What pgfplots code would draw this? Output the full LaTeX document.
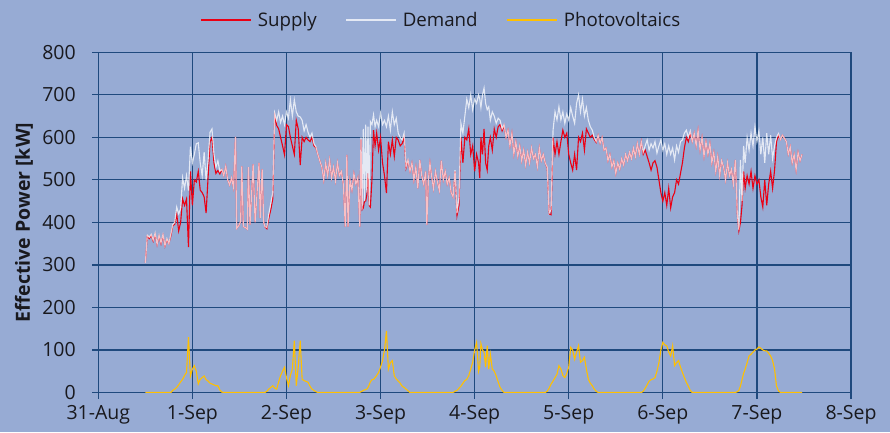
\documentclass[border=0pt]{standalone}
\usepackage{fontspec}
\setmainfont{Open Sans}
\usepackage{pgfplots}
\usepackage{pgfplotstable}
\pgfplotsset{compat=1.18}
\definecolor{bgc}{RGB}{151,171,212}
\definecolor{navy}{RGB}{31,73,125}
\definecolor{pvc}{RGB}{255,192,0}
\definecolor{supc}{RGB}{235,0,20}
\definecolor{txt}{RGB}{25,25,30}

\pgfplotstableread{
h D S P
12.0 305 305 0
12.5 370 368 0
13.0 365 362 0
13.5 372 370 0
14.0 358 356 0
14.5 375 372 0
15.0 348 347 0
15.5 370 368 0
16.0 352 350 0
16.5 372 370 0
17.0 345 344 0
17.5 362 360 0
18.0 350 350 0
18.5 372 368 0
19.0 395 392 5
19.5 400 396 8
20.0 436 420 12
20.5 420 380 18
21.0 432 400 25
21.5 505 455 31
22.0 480 440 40
22.5 510 455 47
23.0 475 342 130
23.5 578 520 39
24.0 540 440 55
24.5 560 500 63
25.0 585 495 50
25.5 587 520 20
26.0 540 476 31
26.5 510 470 35
27.0 565 460 39
27.5 500 422 30
28.0 545 505 27
28.5 612 590 22
29.0 620 600 20
29.5 560 540 18
30.0 530 515 16
30.5 545 522 16
31.0 520 514 6
31.5 525 524 1
32.0 510 510 0
32.5 532 532 0
33.0 500 500 0
33.5 488 488 0
34.0 505 505 0
34.5 482 482 0
35.0 601 601 0
35.3 386 386 0
35.8 392 392 0
36.3 402 402 0
36.6 532 532 0
37.0 390 390 0
37.5 388 388 0
38.0 384 384 0
38.3 530 530 0
38.7 395 395 0
39.5 537 537 0
40.0 400 400 0
40.5 470 470 0
41.0 540 540 0
41.3 410 410 0
41.8 525 525 0
42.2 400 400 0
42.5 390 390 0
43.0 388 385 3
43.5 420 410 8
44.0 445 430 12
44.5 470 455 16
45.0 657 650 10
45.5 640 628 8
46.0 660 620 25
46.5 635 600 40
47.0 650 580 50
47.5 630 559 59
48.0 660 630 35
48.5 645 625 16
49.0 688 600 40
49.5 650 580 55
50.0 688 560 122
50.5 660 640 16
51.0 650 620 60
51.5 648 535 122
52.0 640 600 31
52.5 615 590 28
53.0 630 600 26
53.5 612 594 24
54.0 600 590 15
54.5 610 600 8
55.0 585 580 5
55.5 578 576 2
56.0 560 560 0
56.5 545 545 0
57.0 531 531 0
57.5 500 500 0
58.0 540 540 0
58.5 510 510 0
59.0 547 547 0
59.5 505 505 0
60.0 530 530 0
60.5 498 498 0
61.0 540 540 0
61.5 510 510 0
62.0 520 520 0
62.5 490 490 0
63.0 390 390 0
63.4 559 559 0
63.7 390 390 0
64.2 500 500 0
64.7 476 476 0
65.2 515 515 0
65.7 490 490 0
66.2 505 505 0
66.7 390 390 0
67.0 600 595 2
67.3 430 430 3
67.6 620 434 5
67.9 450 450 6
68.2 630 450 7
68.5 470 465 8
68.8 625 515 12
69.1 440 440 18
69.4 637 436 25
69.8 630 500 30
70.2 653 617 31
70.6 625 580 35
71.0 640 610 40
71.5 625 570 47
72.0 657 600 60
72.5 630 540 75
73.0 640 510 100
73.5 625 469 145
74.0 650 590 55
74.5 617 560 70
75.0 660 594 75
75.5 630 555 39
76.0 645 600 32
76.5 610 594 27
77.0 600 580 22
77.5 594 585 15
78.0 610 600 12
78.5 531 528 8
79.0 547 545 4
79.5 520 520 0
80.0 540 540 0
80.5 500 500 0
81.0 530 530 0
81.5 480 480 0
82.0 547 547 0
82.5 510 510 0
83.0 490 490 0
83.5 520 520 0
83.8 394 394 0
84.2 500 500 0
84.6 540 540 0
85.0 510 510 0
85.5 480 480 0
86.0 520 520 0
86.5 495 495 0
87.0 475 475 0
87.5 545 545 0
88.0 500 500 0
88.5 520 520 0
89.0 490 490 0
89.5 505 505 0
90.0 470 470 0
90.5 460 460 0
91.0 523 520 3
91.5 422 416 5
92.0 460 440 10
92.5 633 600 15
93.0 610 540 22
93.5 650 600 28
94.0 690 594 31
94.5 670 620 40
95.0 700 560 55
95.5 665 580 71
96.0 690 520 100
96.5 680 560 118
97.0 700 540 50
97.3 690 504 60
97.6 670 600 115
98.0 700 560 100
98.4 716 620 95
98.8 680 540 60
99.2 665 523 110
99.6 672 580 55
100.0 640 600 90
100.5 660 570 55
101.0 650 620 50
101.5 633 600 39
102.0 645 625 25
102.5 640 630 12
103.0 620 615 5
103.5 630 628 0
104.0 600 600 0
104.5 617 617 0
105.0 580 580 0
105.5 610 610 0
106.0 560 560 0
106.5 590 590 0
107.0 555 555 0
107.5 580 580 0
108.0 545 545 0
108.5 570 570 0
109.0 535 535 0
109.5 565 565 0
110.0 540 540 0
110.5 575 575 0
111.0 550 550 0
111.5 560 560 0
112.0 531 531 0
112.5 575 575 0
113.0 545 545 0
113.5 560 560 0
114.0 540 540 0
114.5 530 528 3
115.0 422 420 10
115.5 430 418 20
116.0 617 600 27
116.5 660 560 35
117.0 641 590 43
117.5 672 560 63
118.0 641 590 55
118.5 660 617 40
119.0 633 600 35
119.5 655 610 45
120.0 640 560 60
120.5 670 540 106
121.0 650 523 100
121.5 633 560 78
122.0 680 523 95
122.5 700 600 110
123.0 660 590 71
123.5 690 610 75
124.0 650 570 83
124.5 670 620 55
125.0 640 610 31
125.5 625 600 22
126.0 617 605 16
126.5 600 595 8
127.0 590 588 3
127.5 605 605 0
128.0 586 586 0
128.5 600 600 0
129.0 570 570 0
129.5 575 575 0
130.0 545 545 0
130.5 560 560 0
131.0 530 530 0
131.5 545 545 0
132.0 515 515 0
132.5 540 540 0
133.0 525 525 0
133.5 550 550 0
134.0 535 535 0
134.5 560 560 0
135.0 545 545 0
135.5 565 565 0
136.0 550 550 0
136.5 575 575 0
137.0 555 555 0
137.5 585 585 0
138.0 560 560 0
138.5 590 590 0
139.0 565 560 3
139.5 580 570 10
140.0 594 555 18
140.5 570 540 27
141.0 585 523 30
141.5 575 540 32
142.0 590 545 35
142.5 563 530 50
143.0 580 500 70
143.5 594 470 100
144.0 570 450 118
144.5 585 470 112
145.0 560 440 110
145.5 580 480 95
146.0 560 434 86
146.5 575 460 110
147.0 547 470 63
147.5 580 500 70
148.0 565 490 75
148.5 590 515 60
149.0 594 540 47
149.5 610 575 35
150.0 617 600 24
150.5 600 590 15
151.0 615 610 5
151.5 590 590 0
152.0 610 610 0
152.5 580 580 0
153.0 617 617 0
153.5 570 570 0
154.0 600 600 0
154.5 555 555 0
155.0 590 590 0
155.5 560 560 0
156.0 586 586 0
156.5 540 540 0
157.0 565 565 0
157.5 520 520 0
158.0 555 555 0
158.5 510 510 0
159.0 545 545 0
159.5 530 530 0
160.0 500 500 0
160.5 540 540 0
161.0 510 510 0
161.5 525 525 0
162.0 490 490 0
162.5 547 547 0
163.0 420 418 2
163.4 382 380 5
163.8 547 400 15
164.2 450 440 30
164.6 580 520 45
165.0 540 480 55
165.5 600 510 70
166.0 570 490 86
166.5 610 520 90
167.0 580 480 95
167.5 625 510 100
168.0 590 490 102
168.5 615 500 107
169.0 560 460 104
169.5 600 436 100
170.0 540 500 98
170.5 610 440 98
171.0 560 490 92
171.5 605 520 86
172.0 550 480 75
172.5 580 523 55
173.0 600 590 15
173.5 609 605 4
174.0 595 595 0
174.5 605 605 0
175.0 598 598 0
175.5 590 590 0
176.0 560 560 0
176.5 578 578 0
177.0 540 540 0
177.5 560 560 0
178.0 523 523 0
178.5 565 565 0
179.0 545 545 0
179.5 560 560 0
}\datatable

\begin{document}
\begin{tikzpicture}[font=\fontsize{18.7pt}{22pt}\selectfont]
\path[use as bounding box, fill=bgc] (0,0) rectangle (890pt,432pt);
\begin{axis}[
  at={(98.3pt,39.5pt)}, anchor=south west,
  scale only axis, width=752.7pt, height=340.2pt,
  xmin=0, xmax=192, ymin=0, ymax=800,
  xtick={0,24,...,192},
  xticklabels={31-Aug,1-Sep,2-Sep,3-Sep,4-Sep,5-Sep,6-Sep,7-Sep,8-Sep},
  ytick={0,100,...,800},
  xtick pos=bottom, ytick pos=left,
  tick align=outside, major tick length=6pt,
  grid=major,
  major grid style={navy, line width=1.2pt},
  axis line style={navy, line width=1.4pt},
  tick style={navy, line width=1.2pt},
  /pgf/number format/assume math mode=true,
  ticklabel style={font=\fontsize{19.5pt}{23pt}\selectfont, text=txt},
  xticklabel style={yshift=-3pt},
  yticklabel style={xshift=-13pt},
  every axis y label/.style={at={(axis description cs:-0.0987,0.5)}, rotate=90, anchor=center, font=\fontsize{19.5pt}{23pt}\selectfont\bfseries, text=txt},
  ylabel={Effective Power [kW]},
  legend columns=3,
  legend style={at={(axis description cs:0.456,1.095)}, anchor=center, draw=none, fill=none,
    font=\fontsize{18.7pt}{22pt}\selectfont, text=txt,
    /tikz/every odd column/.append style={column sep=4pt},
    /tikz/every even column/.append style={column sep=27pt}},
  legend image code/.code={\draw[#1] (0pt,0pt) -- (50pt,0pt);},
]
\addplot[supc, line width=1.1pt] table[x=h, y=S] {\datatable};
\addlegendentry{Supply}
\addplot[white, opacity=0.75, line width=1.1pt] table[x=h, y=D] {\datatable};
\addlegendentry{Demand}
\addplot[pvc, line width=1.1pt] table[x=h, y=P] {\datatable};
\addlegendentry{Photovoltaics}
\end{axis}
\end{tikzpicture}
\end{document}
